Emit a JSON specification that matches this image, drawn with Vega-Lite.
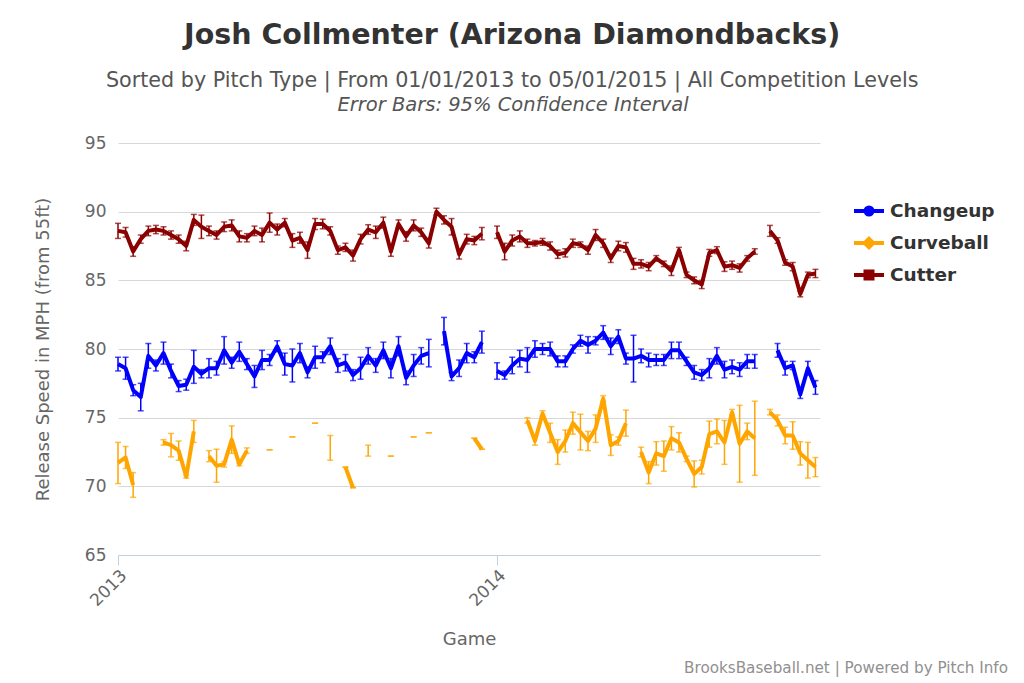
{
  "$schema": "https://vega.github.io/schema/vega-lite/v6.json",
  "padding": {"left": 34, "top": 20, "right": 10, "bottom": 5},
  "config": {"font": "DejaVu Sans", "view": {"stroke": null}},
  "title": {"text": "Josh Collmenter (Arizona Diamondbacks)", "subtitle": "Sorted by Pitch Type | From 01/01/2013 to 05/01/2015 | All Competition Levels", "fontSize": 28.5, "fontWeight": "bold", "color": "#333333", "subtitleFontSize": 20.7, "subtitleColor": "#555555", "subtitlePadding": 22, "offset": 3.5, "anchor": "middle", "dx": -9},
  "datasets": {
    "pitches": [
      {"g":0,"t":"Cutter","v":88.6,"e":0.55},{"g":1,"t":"Cutter","v":88.5,"e":0.35},{"g":2,"t":"Cutter","v":87.1,"e":0.35},{"g":3,"t":"Cutter","v":88.0,"e":0.3},{"g":4,"t":"Cutter","v":88.6,"e":0.35},{"g":5,"t":"Cutter","v":88.7,"e":0.3},{"g":6,"t":"Cutter","v":88.6,"e":0.3},{"g":7,"t":"Cutter","v":88.3,"e":0.3},{"g":8,"t":"Cutter","v":88.0,"e":0.3},{"g":9,"t":"Cutter","v":87.5,"e":0.35},
      {"g":10,"t":"Cutter","v":89.4,"e":0.4},{"g":11,"t":"Cutter","v":88.9,"e":0.85},{"g":12,"t":"Cutter","v":88.6,"e":0.35},{"g":13,"t":"Cutter","v":88.3,"e":0.3},{"g":14,"t":"Cutter","v":88.9,"e":0.35},{"g":15,"t":"Cutter","v":89.0,"e":0.4},{"g":16,"t":"Cutter","v":88.2,"e":0.4},{"g":17,"t":"Cutter","v":88.1,"e":0.3},{"g":18,"t":"Cutter","v":88.6,"e":0.35},{"g":19,"t":"Cutter","v":88.3,"e":0.5},
      {"g":20,"t":"Cutter","v":89.2,"e":0.7},{"g":21,"t":"Cutter","v":88.7,"e":0.4},{"g":22,"t":"Cutter","v":89.2,"e":0.3},{"g":23,"t":"Cutter","v":87.9,"e":0.5},{"g":24,"t":"Cutter","v":88.1,"e":0.4},{"g":25,"t":"Cutter","v":87.2,"e":0.6},{"g":26,"t":"Cutter","v":89.1,"e":0.4},{"g":27,"t":"Cutter","v":89.1,"e":0.35},{"g":28,"t":"Cutter","v":88.6,"e":0.3},{"g":29,"t":"Cutter","v":87.2,"e":0.3},
      {"g":30,"t":"Cutter","v":87.4,"e":0.3},{"g":31,"t":"Cutter","v":86.8,"e":0.4},{"g":32,"t":"Cutter","v":88.0,"e":0.35},{"g":33,"t":"Cutter","v":88.7,"e":0.35},{"g":34,"t":"Cutter","v":88.5,"e":0.45},{"g":35,"t":"Cutter","v":89.2,"e":0.4},{"g":36,"t":"Cutter","v":87.1,"e":0.35},{"g":37,"t":"Cutter","v":89.1,"e":0.3},{"g":38,"t":"Cutter","v":88.2,"e":0.35},{"g":39,"t":"Cutter","v":89.0,"e":0.4},
      {"g":40,"t":"Cutter","v":88.5,"e":0.3},{"g":41,"t":"Cutter","v":87.7,"e":0.35},{"g":42,"t":"Cutter","v":90.0,"e":0.25},{"g":43,"t":"Cutter","v":89.4,"e":0.3},{"g":44,"t":"Cutter","v":88.9,"e":0.6},{"g":45,"t":"Cutter","v":86.9,"e":0.35},{"g":46,"t":"Cutter","v":88.0,"e":0.35},{"g":47,"t":"Cutter","v":87.9,"e":0.3},{"g":48,"t":"Cutter","v":88.4,"e":0.45},{"g":49,"t":"Cutter","v":null},
      {"g":50,"t":"Cutter","v":88.5,"e":0.45},{"g":51,"t":"Cutter","v":87.1,"e":0.6},{"g":52,"t":"Cutter","v":87.9,"e":0.4},{"g":53,"t":"Cutter","v":88.2,"e":0.4},{"g":54,"t":"Cutter","v":87.7,"e":0.3},{"g":55,"t":"Cutter","v":87.7,"e":0.2},{"g":56,"t":"Cutter","v":87.8,"e":0.25},{"g":57,"t":"Cutter","v":87.5,"e":0.3},{"g":58,"t":"Cutter","v":86.9,"e":0.3},{"g":59,"t":"Cutter","v":87.0,"e":0.3},
      {"g":60,"t":"Cutter","v":87.7,"e":0.3},{"g":61,"t":"Cutter","v":87.6,"e":0.2},{"g":62,"t":"Cutter","v":87.2,"e":0.3},{"g":63,"t":"Cutter","v":88.3,"e":0.4},{"g":64,"t":"Cutter","v":87.7,"e":0.3},{"g":65,"t":"Cutter","v":86.6,"e":0.3},{"g":66,"t":"Cutter","v":87.5,"e":0.35},{"g":67,"t":"Cutter","v":87.4,"e":0.35},{"g":68,"t":"Cutter","v":86.2,"e":0.4},{"g":69,"t":"Cutter","v":86.2,"e":0.3},
      {"g":70,"t":"Cutter","v":86.0,"e":0.3},{"g":71,"t":"Cutter","v":86.6,"e":0.2},{"g":72,"t":"Cutter","v":86.2,"e":0.2},{"g":73,"t":"Cutter","v":85.7,"e":0.35},{"g":74,"t":"Cutter","v":87.2,"e":0.2},{"g":75,"t":"Cutter","v":85.4,"e":0.2},{"g":76,"t":"Cutter","v":85.0,"e":0.25},{"g":77,"t":"Cutter","v":84.7,"e":0.3},{"g":78,"t":"Cutter","v":87.0,"e":0.25},{"g":79,"t":"Cutter","v":87.2,"e":0.25},
      {"g":80,"t":"Cutter","v":86.0,"e":0.35},{"g":81,"t":"Cutter","v":86.1,"e":0.3},{"g":82,"t":"Cutter","v":85.9,"e":0.3},{"g":83,"t":"Cutter","v":86.6,"e":0.2},{"g":84,"t":"Cutter","v":87.1,"e":0.2},{"g":85,"t":"Cutter","v":null},{"g":86,"t":"Cutter","v":88.6,"e":0.4},{"g":87,"t":"Cutter","v":87.9,"e":0.2},{"g":88,"t":"Cutter","v":86.3,"e":0.2},{"g":89,"t":"Cutter","v":86.0,"e":0.3},
      {"g":90,"t":"Cutter","v":84.0,"e":0.2},{"g":91,"t":"Cutter","v":85.4,"e":0.2},{"g":92,"t":"Cutter","v":85.5,"e":0.3},

      {"g":0,"t":"Changeup","v":78.9,"e":0.5},{"g":1,"t":"Changeup","v":78.6,"e":0.8},{"g":2,"t":"Changeup","v":77.0,"e":0.4},{"g":3,"t":"Changeup","v":76.5,"e":1.0},{"g":4,"t":"Changeup","v":79.5,"e":0.9},{"g":5,"t":"Changeup","v":78.8,"e":0.4},{"g":6,"t":"Changeup","v":79.7,"e":0.8},{"g":7,"t":"Changeup","v":78.4,"e":0.5},{"g":8,"t":"Changeup","v":77.3,"e":0.4},{"g":9,"t":"Changeup","v":77.4,"e":0.4},
      {"g":10,"t":"Changeup","v":78.7,"e":1.2},{"g":11,"t":"Changeup","v":78.2,"e":0.3},{"g":12,"t":"Changeup","v":78.6,"e":0.7},{"g":13,"t":"Changeup","v":78.6,"e":0.5},{"g":14,"t":"Changeup","v":79.9,"e":1.0},{"g":15,"t":"Changeup","v":79.0,"e":0.4},{"g":16,"t":"Changeup","v":79.8,"e":0.7},{"g":17,"t":"Changeup","v":78.9,"e":0.4},{"g":18,"t":"Changeup","v":78.0,"e":0.8},{"g":19,"t":"Changeup","v":79.2,"e":0.7},
      {"g":20,"t":"Changeup","v":79.2,"e":0.4},{"g":21,"t":"Changeup","v":80.2,"e":0.4},{"g":22,"t":"Changeup","v":78.9,"e":0.8},{"g":23,"t":"Changeup","v":78.8,"e":1.2},{"g":24,"t":"Changeup","v":79.7,"e":0.7},{"g":25,"t":"Changeup","v":78.3,"e":0.4},{"g":26,"t":"Changeup","v":79.4,"e":0.8},{"g":27,"t":"Changeup","v":79.4,"e":0.4},{"g":28,"t":"Changeup","v":80.2,"e":0.6},{"g":29,"t":"Changeup","v":78.8,"e":0.5},
      {"g":30,"t":"Changeup","v":79.0,"e":0.6},{"g":31,"t":"Changeup","v":78.1,"e":0.4},{"g":32,"t":"Changeup","v":78.6,"e":0.8},{"g":33,"t":"Changeup","v":79.5,"e":0.6},{"g":34,"t":"Changeup","v":78.8,"e":0.5},{"g":35,"t":"Changeup","v":79.9,"e":0.6},{"g":36,"t":"Changeup","v":78.6,"e":0.7},{"g":37,"t":"Changeup","v":80.2,"e":0.7},{"g":38,"t":"Changeup","v":77.9,"e":0.5},{"g":39,"t":"Changeup","v":78.8,"e":0.8},
      {"g":40,"t":"Changeup","v":79.5,"e":0.6},{"g":41,"t":"Changeup","v":79.7,"e":1.0},{"g":42,"t":"Changeup","v":null},{"g":43,"t":"Changeup","v":81.3,"e":1.0},{"g":44,"t":"Changeup","v":78.0,"e":0.3},{"g":45,"t":"Changeup","v":78.6,"e":0.6},{"g":46,"t":"Changeup","v":79.7,"e":0.7},{"g":47,"t":"Changeup","v":79.4,"e":0.4},{"g":48,"t":"Changeup","v":80.5,"e":0.8},{"g":49,"t":"Changeup","v":null},
      {"g":50,"t":"Changeup","v":78.4,"e":0.6},{"g":51,"t":"Changeup","v":78.1,"e":0.3},{"g":52,"t":"Changeup","v":78.8,"e":0.6},{"g":53,"t":"Changeup","v":79.3,"e":0.6},{"g":54,"t":"Changeup","v":79.2,"e":0.9},{"g":55,"t":"Changeup","v":80.0,"e":0.6},{"g":56,"t":"Changeup","v":80.0,"e":0.4},{"g":57,"t":"Changeup","v":80.0,"e":0.5},{"g":58,"t":"Changeup","v":79.1,"e":0.4},{"g":59,"t":"Changeup","v":79.1,"e":0.4},
      {"g":60,"t":"Changeup","v":80.0,"e":0.3},{"g":61,"t":"Changeup","v":80.6,"e":0.4},{"g":62,"t":"Changeup","v":80.3,"e":0.6},{"g":63,"t":"Changeup","v":80.6,"e":0.3},{"g":64,"t":"Changeup","v":81.2,"e":0.5},{"g":65,"t":"Changeup","v":80.2,"e":0.6},{"g":66,"t":"Changeup","v":80.9,"e":0.5},{"g":67,"t":"Changeup","v":79.3,"e":0.4},{"g":68,"t":"Changeup","v":79.3,"e":1.7},{"g":69,"t":"Changeup","v":79.5,"e":0.5},
      {"g":70,"t":"Changeup","v":79.2,"e":0.5},{"g":71,"t":"Changeup","v":79.2,"e":0.4},{"g":72,"t":"Changeup","v":79.2,"e":0.4},{"g":73,"t":"Changeup","v":79.9,"e":0.6},{"g":74,"t":"Changeup","v":79.9,"e":0.6},{"g":75,"t":"Changeup","v":79.1,"e":0.3},{"g":76,"t":"Changeup","v":78.3,"e":0.5},{"g":77,"t":"Changeup","v":78.1,"e":0.4},{"g":78,"t":"Changeup","v":78.6,"e":0.7},{"g":79,"t":"Changeup","v":79.5,"e":0.6},
      {"g":80,"t":"Changeup","v":78.5,"e":0.6},{"g":81,"t":"Changeup","v":78.7,"e":0.5},{"g":82,"t":"Changeup","v":78.5,"e":0.5},{"g":83,"t":"Changeup","v":79.1,"e":0.5},{"g":84,"t":"Changeup","v":79.1,"e":0.5},{"g":85,"t":"Changeup","v":null},{"g":86,"t":"Changeup","v":null},{"g":87,"t":"Changeup","v":79.9,"e":0.5},{"g":88,"t":"Changeup","v":78.6,"e":0.5},{"g":89,"t":"Changeup","v":78.8,"e":0.3},
      {"g":90,"t":"Changeup","v":76.7,"e":0.3},{"g":91,"t":"Changeup","v":78.6,"e":0.5},{"g":92,"t":"Changeup","v":77.2,"e":0.5},

      {"g":0,"t":"Curveball","v":71.7,"e":1.5},{"g":1,"t":"Curveball","v":72.1,"e":0.8},{"g":2,"t":"Curveball","v":70.1,"e":0.9},{"g":3,"t":"Curveball","v":null},{"g":4,"t":"Curveball","v":null},{"g":5,"t":"Curveball","v":null},{"g":6,"t":"Curveball","v":73.2,"e":0.2},{"g":7,"t":"Curveball","v":73.0,"e":0.85},{"g":8,"t":"Curveball","v":72.6,"e":0.7},{"g":9,"t":"Curveball","v":70.7,"e":0.1},
      {"g":10,"t":"Curveball","v":74.0,"e":0.8},{"g":11,"t":"Curveball","v":null},{"g":12,"t":"Curveball","v":72.2,"e":0.4},{"g":13,"t":"Curveball","v":71.5,"e":1.2},{"g":14,"t":"Curveball","v":71.6,"e":0.2},{"g":15,"t":"Curveball","v":73.4,"e":1.0},{"g":16,"t":"Curveball","v":71.6,"e":0.1},{"g":17,"t":"Curveball","v":72.6,"e":0.2},{"g":18,"t":"Curveball","v":null},{"g":19,"t":"Curveball","v":null},
      {"g":20,"t":"Curveball","v":72.66,"e":0},{"g":21,"t":"Curveball","v":null},{"g":22,"t":"Curveball","v":null},{"g":23,"t":"Curveball","v":73.6,"e":0},{"g":24,"t":"Curveball","v":null},{"g":25,"t":"Curveball","v":null},{"g":26,"t":"Curveball","v":74.6,"e":0},{"g":27,"t":"Curveball","v":null},{"g":28,"t":"Curveball","v":72.8,"e":0.9},{"g":29,"t":"Curveball","v":null},
      {"g":30,"t":"Curveball","v":71.4,"e":0},{"g":31,"t":"Curveball","v":69.9,"e":0},{"g":32,"t":"Curveball","v":null},{"g":33,"t":"Curveball","v":72.6,"e":0.4},{"g":34,"t":"Curveball","v":null},{"g":35,"t":"Curveball","v":null},{"g":36,"t":"Curveball","v":72.2,"e":0},{"g":37,"t":"Curveball","v":null},{"g":38,"t":"Curveball","v":null},{"g":39,"t":"Curveball","v":73.6,"e":0},
      {"g":40,"t":"Curveball","v":null},{"g":41,"t":"Curveball","v":73.9,"e":0},{"g":42,"t":"Curveball","v":null},{"g":46,"t":"Curveball","v":null},{"g":47,"t":"Curveball","v":73.5,"e":0},{"g":48,"t":"Curveball","v":72.7,"e":0},{"g":49,"t":"Curveball","v":null},{"g":53,"t":"Curveball","v":null},
      {"g":54,"t":"Curveball","v":74.8,"e":0.2},{"g":55,"t":"Curveball","v":73.3,"e":0.3},{"g":56,"t":"Curveball","v":75.3,"e":0.2},{"g":57,"t":"Curveball","v":73.9,"e":0.7},{"g":58,"t":"Curveball","v":72.5,"e":0.9},{"g":59,"t":"Curveball","v":73.3,"e":0.8},
      {"g":60,"t":"Curveball","v":74.6,"e":0.8},{"g":61,"t":"Curveball","v":73.95,"e":1.3},{"g":62,"t":"Curveball","v":73.3,"e":0.7},{"g":63,"t":"Curveball","v":74.2,"e":1.0},{"g":64,"t":"Curveball","v":76.4,"e":0.2},{"g":65,"t":"Curveball","v":73.0,"e":0.75},{"g":66,"t":"Curveball","v":73.3,"e":0.3},{"g":67,"t":"Curveball","v":74.6,"e":0.95},{"g":68,"t":"Curveball","v":null},{"g":69,"t":"Curveball","v":72.5,"e":0.35},
      {"g":70,"t":"Curveball","v":71.0,"e":0.8},{"g":71,"t":"Curveball","v":72.4,"e":0.85},{"g":72,"t":"Curveball","v":72.2,"e":1.1},{"g":73,"t":"Curveball","v":73.5,"e":0.85},{"g":74,"t":"Curveball","v":73.2,"e":0.7},{"g":75,"t":"Curveball","v":72.0,"e":0.2},{"g":76,"t":"Curveball","v":70.9,"e":0.95},{"g":77,"t":"Curveball","v":71.4,"e":0.5},{"g":78,"t":"Curveball","v":73.8,"e":0.95},{"g":79,"t":"Curveball","v":74.0,"e":0.9},
      {"g":80,"t":"Curveball","v":73.2,"e":1.6},{"g":81,"t":"Curveball","v":75.4,"e":0.2},{"g":82,"t":"Curveball","v":73.1,"e":2.8},{"g":83,"t":"Curveball","v":74.0,"e":0.6},{"g":84,"t":"Curveball","v":73.5,"e":2.7},{"g":85,"t":"Curveball","v":null},{"g":86,"t":"Curveball","v":75.4,"e":0.2},{"g":87,"t":"Curveball","v":74.8,"e":0.4},{"g":88,"t":"Curveball","v":73.7,"e":0.6},{"g":89,"t":"Curveball","v":73.7,"e":1.0},
      {"g":90,"t":"Curveball","v":72.4,"e":0.85},{"g":91,"t":"Curveball","v":71.9,"e":1.3},{"g":92,"t":"Curveball","v":71.4,"e":0.7}
    ]
  },
  "vconcat": [
    {
      "title": {"text": "BrooksBaseball.net | Powered by Pitch Info", "orient": "bottom", "anchor": "end", "fontSize": 15.2, "fontWeight": "normal", "color": "#909090", "offset": 12, "dx": 188},
      "vconcat": [
        {
          "title": {"text": "Error Bars: 95% Confidence Interval", "fontSize": 19.5, "fontStyle": "italic", "fontWeight": "normal", "color": "#555555", "offset": 19, "dx": 44},
          "width": 702,
          "height": 412,
          "data": {"name": "pitches"},
          "encoding": {
            "x": {"field": "g", "type": "quantitative", "scale": {"domain": [0, 92.6], "nice": false, "zero": false},
              "axis": {"values": [0, 50], "labelExpr": "datum.value == 0 ? '2013' : '2014'", "labelAngle": -45, "grid": false, "tickSize": 10, "tickColor": "#C0D0E0", "domainColor": "#C0D0E0", "labelFontSize": 17, "labelColor": "#666666", "title": "Game", "titleFontSize": 18, "titleColor": "#666666", "titleFontWeight": "normal", "titlePadding": 22}},
            "y": {"field": "v", "type": "quantitative", "scale": {"domain": [65, 95], "nice": false, "zero": false},
              "axis": {"values": [65, 70, 75, 80, 85, 90, 95], "grid": true, "gridColor": "#D8D8D8", "domain": false, "ticks": false, "labelPadding": 12, "labelFontSize": 17, "labelColor": "#666666", "title": "Release Speed in MPH (from 55ft)", "titleFontSize": 18, "titleColor": "#666666", "titleFontWeight": "normal", "titlePadding": 32}},
            "color": {"field": "t", "type": "nominal", "scale": {"domain": ["Changeup", "Curveball", "Cutter"], "range": ["#0000FF", "#FFA500", "#8B0000"]},
              "legend": {"orient": "none", "legendX": 739, "legendY": 56, "title": null, "labelFontSize": 18.5, "labelFontWeight": "bold", "labelColor": "#333333", "symbolSize": 400, "symbolStrokeWidth": 4, "rowPadding": 7, "labelOffset": 9,
                "encode": {"symbols": {"update": {"opacity": {"value": 1}, "fill": {"scale": "color", "field": "value"}, "stroke": {"scale": "color", "field": "value"}}}}}}
          },
          "layer": [
            {"mark": {"type": "line", "strokeWidth": 4, "invalid": "break-paths-filter-domains", "strokeJoin": "round"}},
            {"transform": [{"filter": "datum.v != null"}],
             "mark": {"type": "errorbar", "ticks": {"size": 6}, "thickness": 1.5},
             "encoding": {"yError": {"field": "e"}}},
            {"transform": [{"filter": "datum.v != null"}],
             "mark": {"type": "point", "filled": true, "opacity": 0},
             "encoding": {"shape": {"field": "t", "type": "nominal", "scale": {"domain": ["Changeup", "Curveball", "Cutter"], "range": ["M-1.5,0L1.5,0M-0.35,0A0.35,0.35,0,1,1,0.35,0A0.35,0.35,0,1,1,-0.35,0Z", "M-1.5,0L1.5,0M0,-0.42L0.42,0L0,0.42L-0.42,0Z", "M-1.5,0L1.5,0M-0.35,-0.35L0.35,-0.35L0.35,0.35L-0.35,0.35Z"]}}}}
          ]
        }
      ]
    }
  ]
}
